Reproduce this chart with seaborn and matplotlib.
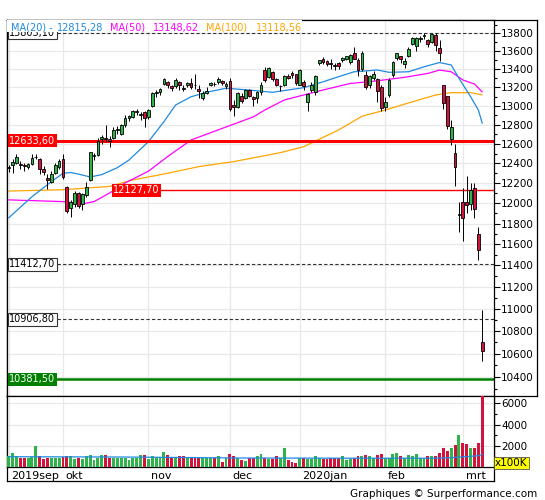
import matplotlib
matplotlib.use("Agg")
import numpy as np
import pandas as pd
import matplotlib.pyplot as plt
import matplotlib.ticker as mticker
from matplotlib.transforms import ScaledTranslation
from matplotlib.patches import Rectangle
import seaborn as sns

# trading sessions (Xetra holidays removed)
holidays = ["2019-10-03", "2019-12-24", "2019-12-25", "2019-12-26", "2019-12-31", "2020-01-01"]
dates = pd.bdate_range("2019-09-11", "2020-03-09").difference(pd.to_datetime(holidays))

month_labels = ["2019sep", "okt", "nov", "dec", "2020jan", "feb", "mrt"]

opens = [12350, 12385, 12400, 12395, 12385, 12360, 12395, 12462, 12440, 12340,
         12250, 12215, 12300, 12360, 12440, 12160, 11950, 11990, 12100, 11990,
         12080, 12230, 12470, 12480, 12655, 12660, 12650, 12660, 12740, 12700,
         12800, 12870, 12880, 12930, 12905, 12930, 12880, 13000, 13140, 13150,
         13240, 13260, 13210, 13210, 13260, 13190, 13220, 13250, 13230, 13180,
         13080, 13140, 13230, 13240, 13260, 13270, 13210, 13270, 13010, 12990,
         13110, 13080, 13170, 13090, 13080, 13150, 13390, 13310, 13370, 13290,
         13210, 13230, 13320, 13360, 13340, 13230, 13260, 13040, 13170, 13150,
         13470, 13510, 13490, 13470, 13440, 13470, 13500, 13510, 13480, 13580,
         13500, 13400, 13330, 13230, 13300, 13290, 13200, 12990, 13120, 13330,
         13520, 13540, 13460, 13540, 13680, 13660, 13740, 13770, 13720, 13700,
         13780, 13630, 13220, 13110, 12650, 12510, 11880, 12010, 12010, 11990,
         12150, 11700, 10700]
highs = [12385, 12445, 12490, 12420, 12400, 12400, 12490, 12495, 12450, 12370,
         12290, 12320, 12400, 12440, 12490, 12170, 12030, 12120, 12110, 12100,
         12210, 12520, 12510, 12660, 12690, 12800, 12680, 12780, 12790, 12810,
         12900, 12905, 12955, 12965, 12930, 12940, 12970, 13150, 13170, 13190,
         13300, 13270, 13230, 13300, 13270, 13220, 13260, 13300, 13350, 13220,
         13160, 13200, 13260, 13260, 13310, 13280, 13260, 13300, 13060, 13150,
         13140, 13180, 13180, 13110, 13160, 13260, 13425, 13425, 13380, 13300,
         13230, 13330, 13340, 13380, 13345, 13400, 13280, 13140, 13260, 13330,
         13500, 13530, 13500, 13510, 13470, 13480, 13530, 13550, 13570, 13640,
         13520, 13600, 13380, 13330, 13380, 13300, 13220, 13090, 13300, 13490,
         13580, 13550, 13520, 13640, 13760, 13760, 13770, 13800, 13730, 13795,
         13800, 13720, 13230, 13110, 12850, 12600, 12010, 12150, 12270, 12200,
         12200, 11770, 10990]
lows = [12310, 12300, 12390, 12340, 12320, 12340, 12380, 12440, 12290, 12280,
        12140, 12200, 12290, 12340, 12240, 11900, 11860, 11960, 11950, 11930,
        12060, 12220, 12430, 12470, 12600, 12620, 12570, 12650, 12700, 12690,
        12780, 12840, 12870, 12900, 12850, 12780, 12860, 12990, 13100, 13120,
        13230, 13190, 13160, 13190, 13170, 13160, 13200, 13180, 13180, 13080,
        13060, 13130, 13210, 13210, 13240, 13220, 13180, 12940, 12890, 12980,
        13030, 13070, 13090, 13000, 13030, 13120, 13260, 13300, 13270, 13210,
        13160, 13210, 13290, 13300, 13230, 13220, 13170, 12950, 13150, 13120,
        13440, 13460, 13430, 13400, 13390, 13400, 13480, 13500, 13460, 13510,
        13320, 13380, 13180, 13190, 13280, 13040, 12940, 12950, 13100, 13310,
        13500, 13470, 13410, 13530, 13670, 13600, 13700, 13740, 13640, 13690,
        13600, 13490, 12970, 12760, 12590, 12170, 11720, 11630, 11900, 11930,
        11850, 11450, 10540]
closes = [12359, 12410, 12468, 12380, 12372, 12390, 12458, 12468, 12342, 12307,
          12234, 12289, 12381, 12428, 12264, 11925, 12013, 12097, 11970, 12094,
          12164, 12512, 12487, 12630, 12670, 12655, 12634, 12748, 12755, 12798,
          12872, 12895, 12942, 12940, 12910, 12867, 12961, 13136, 13149, 13180,
          13289, 13229, 13198, 13284, 13230, 13180, 13242, 13207, 13221, 13158,
          13138, 13164, 13246, 13232, 13287, 13246, 13236, 12965, 12989, 13141,
          13055, 13167, 13106, 13071, 13148, 13222, 13283, 13408, 13288, 13222,
          13212, 13319, 13301, 13337, 13249, 13386, 13219, 13127, 13227, 13320,
          13495, 13483, 13452, 13456, 13432, 13429, 13526, 13549, 13556, 13516,
          13388, 13577, 13205, 13324, 13345, 13157, 12982, 13045, 13282, 13478,
          13575, 13514, 13494, 13628, 13750, 13745, 13744, 13784, 13681, 13789,
          13664, 13579, 13035, 12790, 12775, 12367, 11890, 11858, 11985, 12128,
          11945, 11542, 10625]
volume = [1050, 1360, 1050, 900, 840, 840, 990, 1980, 1050, 780,
          900, 900, 900, 900, 990, 1050, 1050, 780, 900, 780,
          1050, 1150, 680, 900, 1150, 1150, 900, 900, 900, 900,
          900, 680, 900, 900, 1150, 1150, 780, 1050, 900, 900,
          1430, 1150, 840, 900, 1050, 1050, 900, 900, 900, 900,
          900, 900, 900, 840, 1050, 530, 900, 1240, 1050, 900,
          680, 590, 900, 840, 1050, 1240, 900, 780, 780, 1050,
          840, 1770, 680, 530, 430, 900, 900, 780, 780, 1050,
          900, 780, 780, 840, 840, 840, 1050, 680, 780, 840,
          1050, 1050, 1150, 1050, 900, 1150, 1240, 900, 900, 1240,
          1360, 1050, 900, 1150, 1050, 1240, 900, 900, 1050, 1050,
          1050, 1360, 1770, 1520, 1770, 2080, 3000, 2290, 2170, 1770,
          1770, 2290, 7500]

# moving averages (session index, value)
ma20_idx = [0, 6, 11, 14, 16, 18, 21, 24, 28, 31, 36, 40, 43, 47, 51, 56, 62, 68,
            76, 81, 85, 89, 95, 98, 103, 107, 111, 114, 116, 119, 121, 122]
ma20_val = [11855, 12063, 12214, 12298, 12306, 12290, 12261, 12285, 12355, 12433,
            12622, 12832, 13009, 13098, 13146, 13190, 13170, 13146, 13196, 13260,
            13316, 13370, 13389, 13364, 13370, 13425, 13472, 13445, 13298, 13099,
            12956, 12815]
ma50_idx = [0, 14, 19, 22, 26, 30, 36, 41, 47, 56, 63, 66, 71, 76, 81, 88, 94,
            102, 108, 111, 114, 117, 120, 122]
ma50_val = [12032, 12015, 11992, 12015, 12100, 12201, 12319, 12470, 12640, 12776,
            12882, 12956, 13063, 13117, 13171, 13242, 13266, 13309, 13352, 13389,
            13370, 13280, 13236, 13149]
ma100_idx = [0, 14, 26, 32, 41, 49, 58, 70, 76, 85, 91, 97, 103, 110, 114, 119, 122]
ma100_val = [12120, 12133, 12166, 12231, 12299, 12366, 12417, 12509, 12570, 12745,
             12889, 12956, 13031, 13117, 13142, 13142, 13119]
vol_ma_idx = [0, 30, 60, 90, 110, 114, 118, 121, 122]
vol_ma_val = [990, 960, 870, 850, 850, 900, 1000, 1080, 1210]

levels = [13803.10, 12633.60, 12127.70, 11412.70, 10906.80, 10381.50]

ma_names = ["MA(20)", "MA(50)", "MA(100)"]
ma_last = [12815.28, 13148.62, 13118.56]

blue, magenta, orange = "#1f8ae0", "#ff00ff", "#ffa500"
up_col, down_col = "#2fb34a", "#d1133d"

sns.set_theme(style="white")
plt.rcParams["font.family"] = ["DejaVu Sans"]

W, H = 545, 500
def box(x0, y0, x1, y1):
    return [x0 / W, 1 - y1 / H, (x1 - x0) / W, (y1 - y0) / H]

fig = plt.figure(figsize=(5.45, 5.0), dpi=100)
fig.patch.set_facecolor("white")

# frames
axf = fig.add_axes(box(6.5, 20, 537, 395.7))
axd = fig.add_axes(box(6.5, 395.7, 493.5, 481))
for a in (axf, axd):
    a.set_xticks([]); a.set_yticks([])
    a.set_facecolor("none")
    for s in a.spines.values():
        s.set_color("black"); s.set_linewidth(0.9)
ax = fig.add_axes(box(6.5, 20, 493.5, 395.7))
axv = fig.add_axes(box(6.5, 395.7, 493.5, 467.3))

idx = np.arange(len(dates))
month_idx = [0] + [i for i in range(1, len(dates)) if dates[i].month != dates[i - 1].month]

o = np.array(opens); c = np.array(closes)
colors = [up_col if cc >= oo else down_col for oo, cc in zip(o, c)]

for a in (ax, axv):
    a.set_facecolor("white")
    for s in a.spines.values():
        s.set_color("black"); s.set_linewidth(0.9)
    a.set_axisbelow(True)

# price panel
ax.set_yscale("log")
ax.vlines(idx, lows, highs, color="black", linewidth=0.7, zorder=3)
ax.bar(idx, np.abs(c - o), bottom=np.minimum(o, c), width=0.72, color=colors,
       edgecolor="black", linewidth=0.6, zorder=4)

sns.lineplot(x=ma100_idx, y=ma100_val, ax=ax, color=orange, linewidth=0.9, legend=False, zorder=2)
sns.lineplot(x=ma50_idx, y=ma50_val, ax=ax, color=magenta, linewidth=0.9, legend=False, zorder=2)
sns.lineplot(x=ma20_idx, y=ma20_val, ax=ax, color=blue, linewidth=0.9, legend=False, zorder=2)

def fmt(v):
    return f"{v:.2f}".replace(".", ",")

yt = ax.get_yaxis_transform()
# dashed levels
for lv in (levels[0], levels[3], levels[4]):
    ax.axhline(lv, color="#333333", linewidth=0.8, dashes=(3, 2), zorder=2.5)
    ax.text(0.006, lv, fmt(lv), transform=yt, ha="left", va="center", fontsize=7,
            color="black", zorder=6,
            bbox=dict(boxstyle="square,pad=0.15", facecolor="white", edgecolor="#333333", linewidth=0.8))
ax.axhline(levels[1], color="#ff0000", linewidth=2.2, zorder=2.5)
ax.text(0.006, levels[1], fmt(levels[1]), transform=yt, ha="left", va="center", fontsize=7,
        color="white", zorder=6,
        bbox=dict(boxstyle="square,pad=0.15", facecolor="#ff0000", edgecolor="none"))
ax.hlines(levels[2], 27, 130, color="#ff0000", linewidth=1.0, zorder=2.5)
ax.text(27, levels[2], fmt(levels[2]), ha="left", va="center", fontsize=7,
        color="white", zorder=6,
        bbox=dict(boxstyle="square,pad=0.15", facecolor="#ff0000", edgecolor="none"))
ax.axhline(levels[5], color="#008000", linewidth=1.8, zorder=2.5)
ax.text(0.006, levels[5], fmt(levels[5]), transform=yt, ha="left", va="center", fontsize=7,
        color="white", zorder=6,
        bbox=dict(boxstyle="square,pad=0.15", facecolor="#008000", edgecolor="none"))

ax.set_xlim(-0.55, 124.9)
ax.set_ylim(10241, 13952)
ax.yaxis.set_major_locator(mticker.FixedLocator(list(range(10400, 13801, 200))))
ax.yaxis.set_major_formatter(mticker.FuncFormatter(lambda v, p: f"{v:.0f}"))
ax.yaxis.set_minor_locator(mticker.FixedLocator(list(range(10300, 13901, 200))))
ax.yaxis.set_minor_formatter(mticker.NullFormatter())
ax.yaxis.tick_right()
ax.tick_params(axis="y", which="major", direction="out", length=4, width=0.8,
               labelsize=7.5, pad=1.5, colors="black", left=False)
ax.tick_params(axis="y", which="minor", direction="out", length=2.5, width=0.8,
               colors="black", left=False)
ax.set_xticks(month_idx)
ax.tick_params(axis="x", length=0, labelbottom=False)
ax.grid(True, which="major", color="#e8e8e8", linewidth=0.9)
ax.set_xlabel(""); ax.set_ylabel("")

# legend row
ax.add_patch(Rectangle((0.001, 0.968), 0.605, 0.031, transform=ax.transAxes,
                       facecolor="white", edgecolor="none", zorder=7))
leg_items = [(11, ma_names[0] + " -", blue), (57, fmt(ma_last[0]), blue),
             (110, ma_names[1], magenta), (153, fmt(ma_last[1]), magenta),
             (206, ma_names[2], orange), (256, fmt(ma_last[2]), orange)]
for xp, s, col in leg_items:
    fig.text(xp / W, 1 - 27.5 / H, s, ha="left", va="center", fontsize=7, color=col, zorder=8)

# volume panel
axv.bar(idx, volume, width=0.75, color=colors, linewidth=0, zorder=3)
sns.lineplot(x=vol_ma_idx, y=vol_ma_val, ax=axv, color=blue, linewidth=0.9, legend=False, zorder=4)
axv.set_xlim(-0.55, 124.9)
axv.set_ylim(0, 6700)
axv.yaxis.tick_right()
axv.set_yticks([2000, 4000, 6000])
axv.yaxis.set_major_formatter(mticker.FuncFormatter(lambda v, p: f"{v:.0f}"))
axv.yaxis.set_minor_locator(mticker.FixedLocator([1000, 3000, 5000]))
axv.tick_params(axis="y", which="major", direction="out", length=4, width=0.8,
                labelsize=7.5, pad=1.5, colors="black", left=False)
axv.tick_params(axis="y", which="minor", direction="out", length=2.5, width=0.8,
                colors="black", left=False)
axv.set_xticks(month_idx)
axv.set_xticklabels(month_labels, ha="left", fontsize=8)
axv.tick_params(axis="x", length=0, pad=2.5, colors="black")
for lab in axv.get_xticklabels():
    lab.set_transform(lab.get_transform() + ScaledTranslation(2 / 72, 0, fig.dpi_scale_trans))
axv.grid(True, which="major", color="#e8e8e8", linewidth=0.9)
axv.set_xlabel(""); axv.set_ylabel("")

fig.text(495 / W, 1 - 463 / H, "x100K", ha="left", va="center", fontsize=7.5, color="black",
         bbox=dict(boxstyle="square,pad=0.12", facecolor="#ffff00", edgecolor="#555555", linewidth=0.6))
fig.text(537 / W, 1 - 494 / H, "Graphiques © Surperformance.com", ha="right", va="center",
         fontsize=7.5, color="black")

fig.savefig("out.png", dpi=100)
